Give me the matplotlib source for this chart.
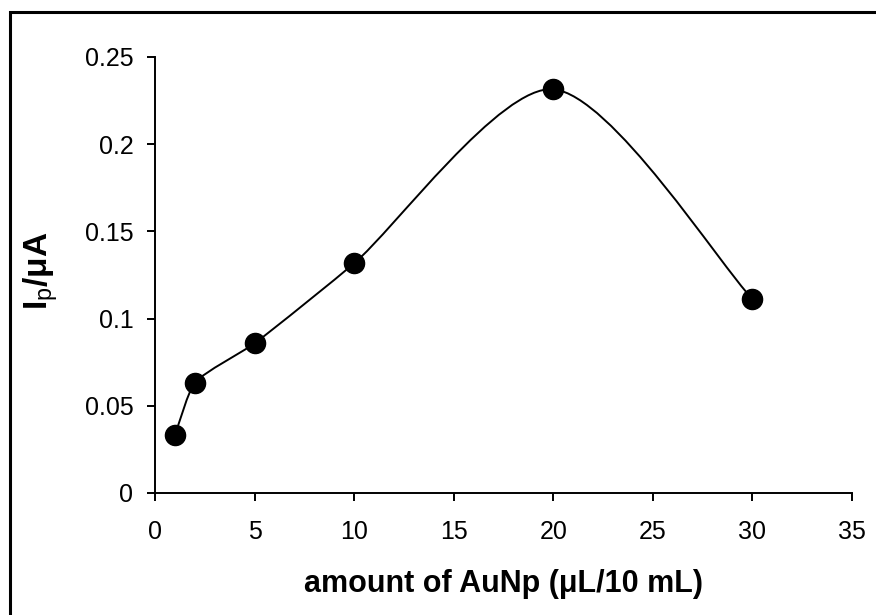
import numpy as np
import matplotlib
matplotlib.use("Agg")
import matplotlib.pyplot as plt
from matplotlib.patches import Rectangle
from matplotlib.path import Path
from matplotlib.patches import PathPatch

plt.rcParams['font.family'] = ['Liberation Sans', 'DejaVu Sans']
plt.rcParams['mathtext.fontset'] = 'custom'
plt.rcParams['mathtext.rm'] = 'Liberation Sans'
plt.rcParams['mathtext.bf'] = 'Liberation Sans:bold'
plt.rcParams['mathtext.it'] = 'Liberation Sans:italic'

amount = [1, 2, 5, 10, 20, 30]
current = [0.0333, 0.0633, 0.0858, 0.1317, 0.2315, 0.1112]
x_ticks = [0, 5, 10, 15, 20, 25, 30, 35]
y_ticks = [0, 0.05, 0.1, 0.15, 0.2, 0.25]
y_tick_labels = ['0', '0.05', '0.1', '0.15', '0.2', '0.25']

fig = plt.figure(figsize=(8.76, 6.15), dpi=100)
ax = fig.add_axes([155/876, 1-493/615, (852-155)/876, (493-57)/615])
ax.set_xlim(0, 35)
ax.set_ylim(0, 0.25)

# Excel-like smoothed line: Catmull-Rom Bezier (display space), control arms clamped
D = ax.transData.transform(np.column_stack([amount, current]).astype(float))
n = len(D)
verts = [D[0]]
codes = [Path.MOVETO]
def arm(i):
    a = D[i - 1] if i > 0 else D[i]
    b = D[i + 1] if i < n - 1 else D[i]
    return (b - a) / 6.0
def clamp(v, lim):
    m = np.linalg.norm(v)
    return v if m <= lim else v * lim / m
for i in range(n - 1):
    L = np.linalg.norm(D[i + 1] - D[i])
    c1 = D[i] + clamp(arm(i), L / 5.0)
    c2 = D[i + 1] - clamp(arm(i + 1), L / 6.0 if i == 0 else L / 5.0)
    verts += [c1, c2, D[i + 1]]
    codes += [Path.CURVE4] * 3
verts = ax.transData.inverted().transform(np.array(verts))
ax.add_patch(PathPatch(Path(verts, codes), facecolor='none', edgecolor='black', lw=1.4, zorder=2))

ax.plot(amount, current, linestyle='none', marker='o', markersize=14.5,
        color='black', zorder=3)

ax.set_xticks(x_ticks)
ax.set_xticklabels([str(t) for t in x_ticks])
ax.set_yticks(y_ticks)
ax.set_yticklabels(y_tick_labels)

for s in ['top', 'right']:
    ax.spines[s].set_visible(False)
for s in ['left', 'bottom']:
    ax.spines[s].set_linewidth(1.4)
ax.tick_params(axis='both', direction='out', length=5.5, width=1.4, labelsize=18)
ax.tick_params(axis='x', pad=14)
ax.tick_params(axis='y', pad=10)

fig.text(504/876, 1-584/615, 'amount of AuNp (\u03bcL/10 mL)', ha='center', va='center',
         fontsize=22, fontweight='bold')
fig.text(41/876, 1-271/615, '$\\mathbf{I}_{\\mathrm{p}}\\mathbf{/\u03bcA}$', ha='center', va='center',
         fontsize=24, rotation=90)

fig.patches.append(Rectangle((10/876, -0.1), 2.0, 1 - 12/615 + 0.1, transform=fig.transFigure,
                             fill=False, edgecolor='black', lw=2.2, zorder=10))

fig.savefig('out.png', dpi=100)
